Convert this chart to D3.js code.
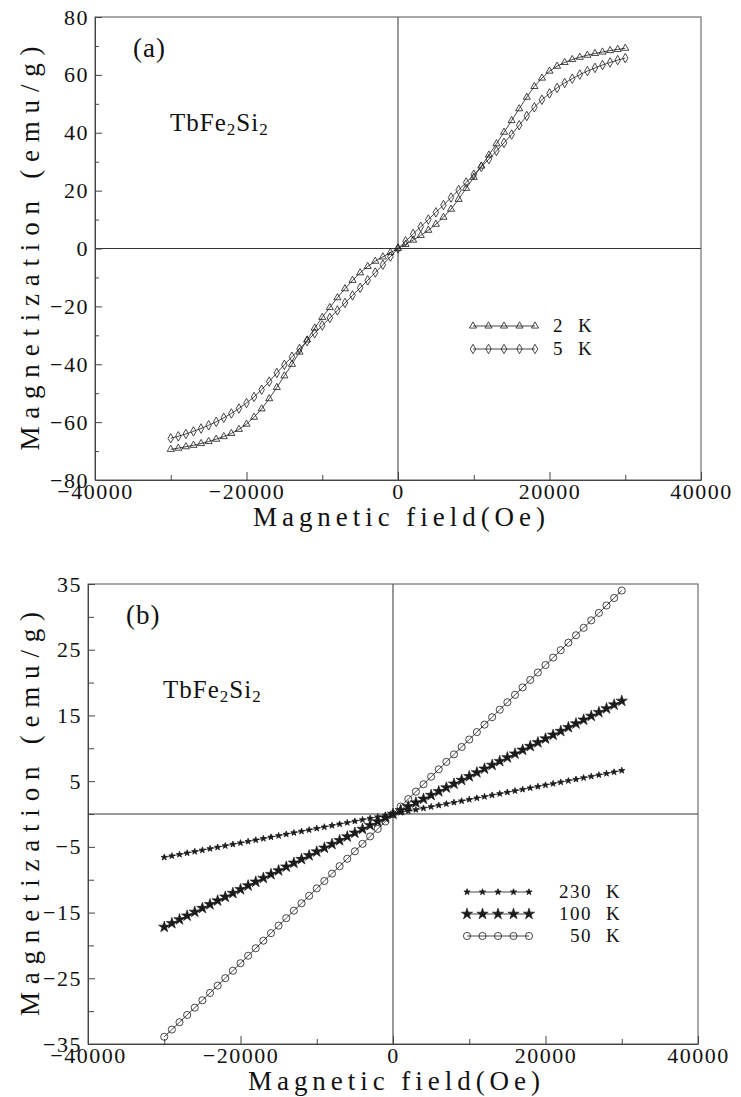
<!DOCTYPE html>
<html>
<head>
<meta charset="utf-8">
<script src="https://cdn.jsdelivr.net/npm/d3@7"></script>
<style>
  body { margin: 0; background: #fff; }
  svg { display: block; }
  text { font-family: "Liberation Serif", "DejaVu Serif", serif; fill: #111; }
</style>
</head>
<body>
<div class="svg-content"></div>
<script>
// field values in Oe, same grid for every series
const field = [-30000, -29000, -28000, -27000, -26000, -25000, -24000, -23000, -22000, -21000,
               -20000, -19000, -18000, -17000, -16000, -15000, -14000, -13000, -12000, -11000,
               -10000, -9000, -8000, -7000, -6000, -5000, -4000, -3000, -2000, -1000,
               0,
               1000, 2000, 3000, 4000, 5000, 6000, 7000, 8000, 9000, 10000,
               11000, 12000, 13000, 14000, 15000, 16000, 17000, 18000, 19000, 20000,
               21000, 22000, 23000, 24000, 25000, 26000, 27000, 28000, 29000, 30000];

// panel (a)
const mag2K = [-69.4, -69.0, -68.5, -68.0, -67.4, -66.7, -65.9, -65.0, -63.9, -62.5,
               -60.7, -58.3, -55.4, -51.9, -48.0, -44.0, -40.0, -35.8, -31.6, -27.5,
               -23.8, -20.4, -17.0, -13.9, -11.0, -8.4, -6.2, -4.4, -2.9, -1.4,
               0,
               1.4, 2.9, 4.5, 6.3, 8.4, 10.8, 13.6, 17.0, 20.8, 24.6,
               28.5, 32.3, 36.2, 40.2, 44.2, 48.3, 52.3, 56.0, 58.9, 61.3,
               63.0, 64.3, 65.3, 66.1, 66.8, 67.4, 67.9, 68.4, 68.8, 69.2];
const mag5K = [-65.6, -64.9, -64.1, -63.2, -62.2, -61.1, -59.9, -58.5, -57.0, -55.3,
               -53.4, -51.3, -48.8, -46.0, -43.0, -40.2, -37.4, -34.7, -32.0, -29.3,
               -26.6, -24.0, -21.4, -18.8, -16.2, -13.6, -11.0, -8.3, -5.6, -2.8,
               0,
               2.5, 5.0, 7.5, 10.0, 12.5, 15.0, 17.6, 20.2, 22.8, 25.5,
               28.2, 30.9, 33.7, 36.5, 39.4, 42.6, 45.8, 48.8, 51.4, 53.6,
               55.5, 57.2, 58.7, 60.1, 61.3, 62.4, 63.4, 64.3, 65.1, 65.8];

// panel (b)
const mag230K = [-6.60, -6.38, -6.16, -5.94, -5.72, -5.50, -5.28, -5.06, -4.84, -4.62,
                 -4.40, -4.18, -3.96, -3.74, -3.52, -3.30, -3.08, -2.86, -2.64, -2.42,
                 -2.20, -1.98, -1.76, -1.54, -1.32, -1.10, -0.88, -0.66, -0.44, -0.22,
                 0,
                 0.22, 0.44, 0.66, 0.88, 1.10, 1.32, 1.54, 1.76, 1.98, 2.20,
                 2.42, 2.64, 2.86, 3.08, 3.30, 3.52, 3.74, 3.96, 4.18, 4.40,
                 4.62, 4.84, 5.06, 5.28, 5.50, 5.72, 5.94, 6.16, 6.38, 6.62];
const mag100K = [-17.20, -16.63, -16.05, -15.48, -14.91, -14.33, -13.76, -13.19, -12.61, -12.04,
                 -11.47, -10.89, -10.32, -9.75, -9.17, -8.60, -8.03, -7.45, -6.88, -6.31,
                 -5.73, -5.16, -4.59, -4.01, -3.44, -2.87, -2.29, -1.72, -1.15, -0.57,
                 0,
                 0.57, 1.15, 1.72, 2.29, 2.87, 3.44, 4.01, 4.59, 5.16, 5.73,
                 6.31, 6.88, 7.45, 8.03, 8.60, 9.17, 9.75, 10.32, 10.89, 11.47,
                 12.04, 12.61, 13.19, 13.76, 14.33, 14.91, 15.48, 16.05, 16.63, 17.20];
const mag50K = [-33.90, -32.80, -31.69, -30.58, -29.47, -28.35, -27.23, -26.11, -24.98, -23.85,
                -22.71, -21.57, -20.43, -19.28, -18.13, -16.99, -15.85, -14.71, -13.58, -12.45,
                -11.32, -10.19, -9.07, -7.94, -6.81, -5.68, -4.54, -3.41, -2.27, -1.14,
                0,
                1.14, 2.27, 3.40, 4.53, 5.67, 6.80, 7.93, 9.07, 10.20, 11.33,
                12.47, 13.60, 14.73, 15.87, 17.00, 18.13, 19.27, 20.40, 21.53, 22.67,
                23.80, 24.93, 26.07, 27.20, 28.33, 29.47, 30.60, 31.73, 32.87, 34.00];

// ticks
const xMajorTicks = [-40000, -20000, 0, 20000, 40000];
const xMinorTicks = [-30000, -10000, 10000, 30000];
const yMajorTicksA = [-80, -60, -40, -20, 0, 20, 40, 60, 80];
const yMinorTicksA = [-70, -50, -30, -10, 10, 30, 50, 70];
const yMajorTicksB = [-35, -25, -15, -5, 5, 15, 25, 35];
const yMinorTicksB = [-30, -20, -10, 0, 10, 20, 30];

const legendA = ["2", "5"];
const legendB = ["230", "100", "50"];

const width = 741;
const height = 1097;

let svg = d3.select(".svg-content")
            .append("svg")
            .attr("width", width)
            .attr("height", height);

const ink = "#1a1a1a";
const fmt = d3.format("d");

function symbolPath(kind) {
  if (kind === "tri") return d3.symbol().type(d3.symbolTriangle).size(22)();
  if (kind === "dia") return d3.symbol().type(d3.symbolDiamond).size(26)();
  if (kind === "smallstar") return d3.symbol().type(d3.symbolStar).size(12)();
  if (kind === "star") return d3.symbol().type(d3.symbolStar).size(40)();
  return d3.symbol().type(d3.symbolCircle).size(40)();
}

function markerStyle(sel, kind) {
  const filled = kind === "star" || kind === "smallstar";
  sel.attr("fill", filled ? ink : "#fff")
     .attr("fill-opacity", filled ? 1 : 0)
     .attr("stroke", ink)
     .attr("stroke-width", kind === "star" ? 0.6 : 0.8);
}

function styleLabels(a) {
  a.selectAll("text")
   .style("font-size", "22px")
   .style("letter-spacing", "1.5px")
   .style("font-family", "Liberation Serif, serif")
   .attr("fill", ink);
}

function drawPanel(cfg) {
  const xScale = d3.scaleLinear().domain([-40000, 40000]).range([cfg.left, cfg.right]);
  const yScale = d3.scaleLinear().domain(cfg.yDomain).range([cfg.bottom, cfg.top]);

  const g = svg.append("g");

  // zero lines
  g.append("line")
   .attr("x1", cfg.left).attr("x2", cfg.right)
   .attr("y1", yScale(0)).attr("y2", yScale(0))
   .attr("stroke", "#333").attr("stroke-width", 1);
  g.append("line")
   .attr("x1", xScale(0)).attr("x2", xScale(0))
   .attr("y1", cfg.top).attr("y2", cfg.bottom)
   .attr("stroke", "#333").attr("stroke-width", 1);

  // frame
  g.append("rect")
   .attr("x", cfg.left).attr("y", cfg.top)
   .attr("width", cfg.right - cfg.left).attr("height", cfg.bottom - cfg.top)
   .attr("fill", "none").attr("stroke", "#555").attr("stroke-width", 1);

  // x axis, ticks pointing inward
  g.append("g")
   .attr("transform", "translate(0," + cfg.bottom + ")")
   .call(d3.axisBottom(xScale).tickValues(xMinorTicks).tickSize(-5).tickFormat(""))
   .call(a => a.select(".domain").remove());
  g.append("g")
   .attr("transform", "translate(0," + cfg.bottom + ")")
   .call(d3.axisBottom(xScale).tickValues(xMajorTicks).tickFormat(fmt)
           .tickSizeInner(-8).tickSizeOuter(0).tickPadding(3))
   .call(a => a.select(".domain").attr("stroke", "#444"))
   .call(styleLabels);

  // y axis
  g.append("g")
   .attr("transform", "translate(" + cfg.left + ",0)")
   .call(d3.axisLeft(yScale).tickValues(cfg.yMinor).tickSize(-cfg.minorLen).tickFormat(""))
   .call(a => a.select(".domain").remove());
  g.append("g")
   .attr("transform", "translate(" + cfg.left + ",0)")
   .call(d3.axisLeft(yScale).tickValues(cfg.yMajor).tickFormat(fmt)
           .tickSizeInner(-7).tickSizeOuter(0).tickPadding(6))
   .call(a => a.select(".domain").attr("stroke", "#444"))
   .call(styleLabels);

  g.selectAll(".tick line").attr("stroke", "#444");

  // series
  const line = d3.line()
                 .x((d, i) => xScale(field[i]))
                 .y(d => yScale(d));

  cfg.series.forEach(s => {
    g.append("path")
     .datum(s.values)
     .attr("d", line)
     .attr("fill", "none")
     .attr("stroke", ink)
     .attr("stroke-width", 0.8);

    g.selectAll(null)
     .data(s.values)
     .enter()
     .append("path")
     .attr("transform", (d, i) => "translate(" + xScale(field[i]) + "," + yScale(d) + ")")
     .attr("d", symbolPath(s.kind))
     .call(markerStyle, s.kind);
  });

  // legend
  cfg.series.forEach((s, k) => {
    const ly = cfg.legendY + k * cfg.legendGap;
    g.append("line")
     .attr("x1", cfg.legendX).attr("x2", cfg.legendX + 62)
     .attr("y1", ly).attr("y2", ly)
     .attr("stroke", ink).attr("stroke-width", 0.8);
    d3.range(5).forEach(j => {
      g.append("path")
       .attr("transform", "translate(" + (cfg.legendX + j * 15.5) + "," + ly + ")")
       .attr("d", symbolPath(s.kind))
       .call(markerStyle, s.kind);
    });
    g.append("text")
     .attr("x", cfg.legendNumX).attr("y", ly + 6)
     .attr("text-anchor", "end")
     .style("font-size", "19px")
     .style("letter-spacing", "1.5px")
     .text(cfg.legendLabels[k]);
    g.append("text")
     .attr("x", cfg.legendNumX + 14).attr("y", ly + 6)
     .style("font-size", "19px")
     .text("K");
  });

  // panel tag and compound
  g.append("text")
   .attr("x", cfg.left + 38).attr("y", cfg.top + 40)
   .style("font-size", "27px")
   .style("letter-spacing", "1px")
   .text(cfg.tag);

  const comp = g.append("text")
                .attr("x", cfg.left + 75).attr("y", cfg.top + 114)
                .style("font-size", "25px")
                .style("letter-spacing", "1px");
  comp.append("tspan").text("TbFe");
  comp.append("tspan").attr("dy", 4).style("font-size", "17px").text("2");
  comp.append("tspan").attr("dy", -4).text("Si");
  comp.append("tspan").attr("dy", 4).style("font-size", "17px").text("2");

  // axis titles
  g.append("text")
   .attr("x", (cfg.left + cfg.right) / 2 + 1)
   .attr("y", cfg.bottom + 46)
   .attr("text-anchor", "middle")
   .attr("textLength", 292)
   .attr("lengthAdjust", "spacing")
   .style("font-size", "27px")
   .text("Magnetic  field(Oe)");

  const cy = (cfg.top + cfg.bottom) / 2;
  g.append("text")
   .attr("transform", "translate(39," + cy + ") rotate(-90)")
   .attr("text-anchor", "middle")
   .attr("textLength", 404)
   .attr("lengthAdjust", "spacing")
   .style("font-size", "27px")
   .text("Magnetization (emu/g)");
}

drawPanel({
  left: 95, right: 701, top: 17, bottom: 480,
  yDomain: [-80, 80],
  yMajor: yMajorTicksA, yMinor: yMinorTicksA, minorLen: 4,
  tag: "(a)",
  series: [
    { values: mag2K, kind: "tri" },
    { values: mag5K, kind: "dia" }
  ],
  legendX: 473, legendY: 326, legendGap: 23,
  legendNumX: 564, legendLabels: legendA
});

drawPanel({
  left: 88, right: 698, top: 584, bottom: 1044,
  yDomain: [-35, 35],
  yMajor: yMajorTicksB, yMinor: yMinorTicksB, minorLen: 6,
  tag: "(b)",
  series: [
    { values: mag230K, kind: "smallstar" },
    { values: mag100K, kind: "star" },
    { values: mag50K, kind: "circle" }
  ],
  legendX: 467, legendY: 892, legendGap: 22,
  legendNumX: 592, legendLabels: legendB
});
</script>
</body>
</html>
